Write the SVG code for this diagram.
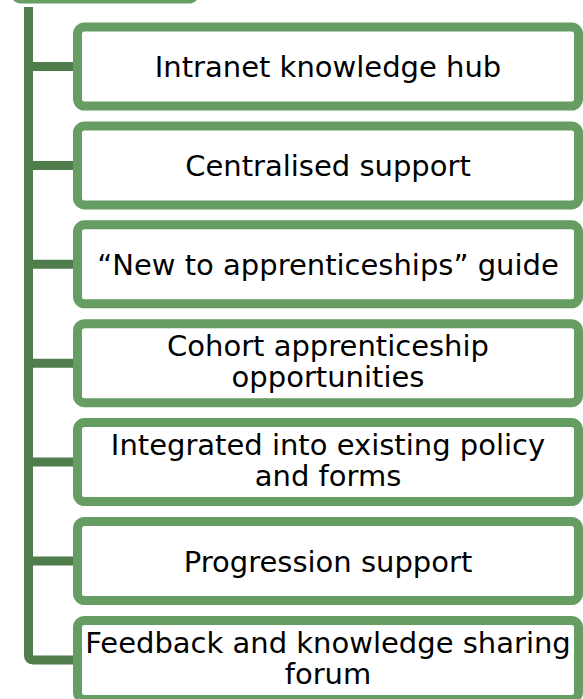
<svg xmlns="http://www.w3.org/2000/svg" width="583" height="699" viewBox="0 0 583 699">
<style>
.box{fill:#fff;stroke:#669D62;stroke-width:9}
.conn{fill:none;stroke:#4F7D4C;stroke-width:9}
.t{font-family:"DejaVu Sans","Verdana",sans-serif;font-size:29px;fill:#000;text-anchor:middle}
</style>
<rect width="583" height="699" fill="#fff"/>
<g id="parent"><rect class="box" x="14.5" y="-60" width="181" height="59" rx="7"/></g>
<g id="connectors">
<path class="conn" d="M28.5 7 V655.5 Q28.5 659.9 33 659.9 H78" stroke-linejoin="round"/>
<path class="conn" d="M28.5 66.5 H78"/>
<path class="conn" d="M28.5 165.4 H78"/>
<path class="conn" d="M28.5 264.3 H78"/>
<path class="conn" d="M28.5 363.2 H78"/>
<path class="conn" d="M28.5 462.1 H78"/>
<path class="conn" d="M28.5 561 H78"/>
</g>
<g id="n1"><rect class="box" x="77.5" y="27" width="501" height="79" rx="7"/><text class="t" x="328" y="77">Intranet knowledge hub</text></g>
<g id="n2"><rect class="box" x="77.5" y="125.9" width="501" height="79" rx="7"/><text class="t" x="328" y="175.9">Centralised support</text></g>
<g id="n3"><rect class="box" x="77.5" y="224.8" width="501" height="79" rx="7"/><text class="t" x="328" y="274.8">“New to apprenticeships” guide</text></g>
<g id="n4"><rect class="box" x="77.5" y="323.7" width="501" height="79" rx="7"/><text class="t" x="328" y="356">Cohort apprenticeship</text><text class="t" x="328" y="387">opportunities</text></g>
<g id="n5"><rect class="box" x="77.5" y="422.6" width="501" height="79" rx="7"/><text class="t" x="328" y="454.9">Integrated into existing policy</text><text class="t" x="328" y="485.9">and forms</text></g>
<g id="n6"><rect class="box" x="77.5" y="521.5" width="501" height="79" rx="7"/><text class="t" x="328" y="571.5">Progression support</text></g>
<g id="n7"><rect class="box" x="77.5" y="620.4" width="501" height="79" rx="7"/><text class="t" x="328" y="652.5">Feedback and knowledge sharing</text><text class="t" x="328" y="683.5">forum</text></g>
</svg>
